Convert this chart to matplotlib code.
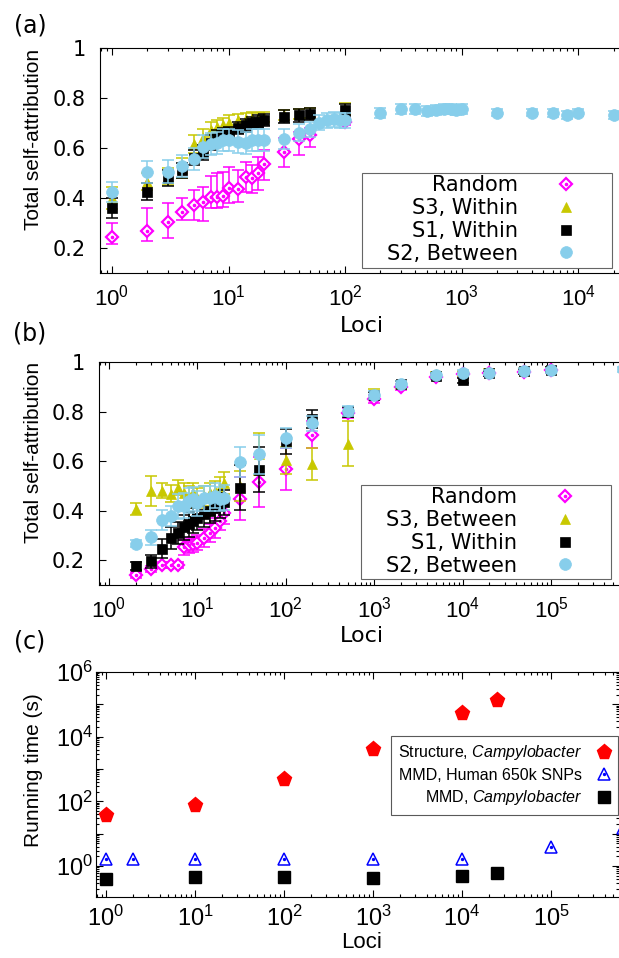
import numpy as np

import matplotlib
matplotlib.use('Agg')
from matplotlib import pyplot as plt
from matplotlib.patches import Rectangle
from matplotlib.ticker import LogLocator, FuncFormatter, NullFormatter
from matplotlib.legend_handler import HandlerTuple

#-------------------------------------------------

plt.rcParams['font.family'] = ['Liberation Sans', 'DejaVu Sans']
plt.rcParams['mathtext.fontset'] = 'custom'
plt.rcParams['mathtext.rm'] = 'Liberation Sans'
plt.rcParams['mathtext.it'] = 'Liberation Sans:italic'
plt.rcParams['mathtext.bf'] = 'Liberation Sans:bold'

W, H = 619, 958

### panel (a) : loci vs total self-attribution
xa = [1, 2, 3, 4, 5, 6, 7, 8, 9, 10, 12, 14, 16, 18, 20, 30, 40, 50, 100]
rand_a    = [0.245, 0.269, 0.305, 0.345, 0.372, 0.385, 0.405, 0.405, 0.408, 0.439, 0.435, 0.483, 0.479, 0.499, 0.536, 0.583, 0.636, 0.652, 0.705]
rand_a_lo = [0.216, 0.229, 0.240, 0.310, 0.312, 0.308, 0.359, 0.359, 0.362, 0.379, 0.385, 0.425, 0.420, 0.432, 0.472, 0.523, 0.572, 0.605, 0.690]
rand_a_hi = [0.300, 0.361, 0.380, 0.400, 0.432, 0.445, 0.488, 0.499, 0.505, 0.525, 0.512, 0.545, 0.532, 0.565, 0.592, 0.639, 0.665, 0.680, 0.720]
s3_a      = [0.400, 0.465, 0.485, 0.520, 0.616, 0.639, 0.672, 0.683, 0.690, 0.700, 0.710, 0.715, 0.720, 0.720, 0.722, 0.730, 0.735, 0.740, 0.755]
s3_a_err  = [0.045, 0.035, 0.035, 0.040, 0.035, 0.035, 0.030, 0.030, 0.030, 0.030, 0.025, 0.025, 0.025, 0.020, 0.020, 0.020, 0.020, 0.020, 0.025]
s1_a      = [0.359, 0.425, 0.479, 0.510, 0.560, 0.580, 0.620, 0.640, 0.650, 0.660, 0.680, 0.690, 0.700, 0.705, 0.712, 0.725, 0.730, 0.735, 0.752]
s1_a_err  = [0.040, 0.035, 0.032, 0.030, 0.030, 0.030, 0.030, 0.030, 0.030, 0.025, 0.025, 0.025, 0.025, 0.025, 0.025, 0.025, 0.025, 0.025, 0.025]
xa_s2 = [1, 2, 3, 4, 5, 6, 7, 8, 9, 10, 12, 14, 16, 18, 20, 30, 40, 50, 60, 70, 80, 90, 100,
         200, 300, 400, 500, 600, 700, 800, 900, 1000, 2000, 4000, 6000, 8000, 10000, 20000]
s2_a      = [0.425, 0.503, 0.505, 0.528, 0.555, 0.605, 0.616, 0.620, 0.632, 0.632, 0.625, 0.620, 0.632, 0.632, 0.632, 0.635, 0.661, 0.675, 0.700, 0.710, 0.715, 0.710, 0.710,
             0.739, 0.756, 0.756, 0.748, 0.752, 0.756, 0.756, 0.752, 0.755, 0.741, 0.741, 0.739, 0.732, 0.741, 0.732]
s2_a_err  = [0.040, 0.045, 0.045, 0.045, 0.045, 0.045, 0.045, 0.045, 0.045, 0.045, 0.045, 0.045, 0.045, 0.045, 0.045, 0.040, 0.035, 0.030, 0.030, 0.030, 0.030, 0.030, 0.030,
             0.020, 0.020, 0.020, 0.020, 0.020, 0.020, 0.020, 0.020, 0.020, 0.015, 0.015, 0.015, 0.015, 0.015, 0.015]

### panel (b)
xb = [2, 3, 4, 5, 6, 7, 8, 9, 10, 12, 14, 16, 18, 20, 30, 50, 100, 200, 500, 1000, 2000, 5000, 10000, 20000, 50000, 100000]
rand_b     = [0.140, 0.163, 0.180, 0.180, 0.180, 0.253, 0.260, 0.265, 0.270, 0.290, 0.310, 0.330, 0.360, 0.390, 0.449, 0.516, 0.567, 0.707, 0.793, 0.850, 0.900, 0.940, 0.950, 0.955, 0.960, 0.967]
rand_b_err = [0.012, 0.012, 0.012, 0.012, 0.012, 0.030, 0.030, 0.030, 0.030, 0.035, 0.035, 0.040, 0.040, 0.045, 0.085, 0.100, 0.085, 0.055, 0.020, 0.015, 0.012, 0.010, 0.010, 0.010, 0.010, 0.010]
s3_b       = [0.407, 0.480, 0.480, 0.469, 0.493, 0.470, 0.460, 0.470, 0.450, 0.460, 0.470, 0.480, 0.490, 0.513, 0.500, 0.627, 0.603, 0.587, 0.670, 0.870, 0.910, 0.950, 0.955, 0.960, 0.965, 0.970]
s3_b_err   = [0.025, 0.060, 0.030, 0.035, 0.030, 0.040, 0.040, 0.040, 0.040, 0.040, 0.040, 0.040, 0.045, 0.045, 0.060, 0.085, 0.055, 0.065, 0.090, 0.020, 0.015, 0.010, 0.010, 0.010, 0.010, 0.010]
s1_b       = [0.176, 0.195, 0.247, 0.290, 0.310, 0.333, 0.345, 0.360, 0.370, 0.385, 0.400, 0.410, 0.420, 0.433, 0.493, 0.565, 0.680, 0.770, 0.800, 0.865, 0.910, 0.945, 0.927, 0.955, 0.962, 0.968]
s1_b_err   = [0.015, 0.025, 0.040, 0.045, 0.045, 0.050, 0.050, 0.050, 0.050, 0.050, 0.050, 0.050, 0.050, 0.050, 0.090, 0.090, 0.050, 0.035, 0.020, 0.015, 0.012, 0.010, 0.010, 0.010, 0.010, 0.010]
xb_s2 = xb + [650000]
s2_b       = [0.267, 0.293, 0.363, 0.380, 0.417, 0.420, 0.440, 0.447, 0.430, 0.450, 0.450, 0.460, 0.447, 0.453, 0.597, 0.627, 0.692, 0.753, 0.804, 0.867, 0.913, 0.947, 0.957, 0.957, 0.964, 0.967, 0.971]
s2_b_err   = [0.015, 0.030, 0.040, 0.040, 0.050, 0.050, 0.050, 0.050, 0.050, 0.050, 0.050, 0.050, 0.050, 0.050, 0.060, 0.080, 0.040, 0.030, 0.020, 0.015, 0.012, 0.010, 0.010, 0.010, 0.010, 0.010, 0.010]

### panel (c) : running time (s)
xc_struct = [1, 10, 100, 1000, 10000, 25000]
t_struct  = [37, 75, 500, 4200, 54000, 138000]
xc_human  = [1, 2, 10, 100, 1000, 10000, 100000, 650000]
t_human   = [1.6, 1.6, 1.6, 1.6, 1.6, 1.6, 3.8, 14.5]
xc_mmd    = [1, 10, 100, 1000, 10000, 25000]
t_mmd     = [0.39, 0.44, 0.44, 0.42, 0.49, 0.60]

MAGENTA = '#ff00ff'
OLIVE   = '#c8c800'
SKY     = '#87ceeb'

#-------------------------------------------------

def fx(px):
    return px/float(W)

def fy(py):
    return 1.0 - py/float(H)

def series(ax, x, y, lo, hi, color, marker, ms, z, hollow=False):
    x = np.asarray(x, float)
    y = np.asarray(y, float)
    ax.errorbar(x, y, yerr=[y-np.asarray(lo), np.asarray(hi)-y], fmt='none', ecolor=color,
                elinewidth=1.1, capsize=4, capthick=1.1, zorder=z)
    if hollow:
        h1, = ax.plot(x, y, ls='none', marker=marker, ms=ms, mfc='white', mec=color, mew=1.6, zorder=z+0.1)
        h2, = ax.plot(x, y, ls='none', marker='o', ms=1.6, mfc=color, mec=color, zorder=z+0.2)
        return (h1, h2)
    h, = ax.plot(x, y, ls='none', marker=marker, ms=ms, mfc=color, mec=color, mew=0.5, zorder=z+0.1)
    return h

def sym(y, e):
    y = np.asarray(y); e = np.asarray(e)
    return y-e, y+e

def attribution_axes(ax, xlim):
    ax.set_xscale('log')
    ax.set_xlim(*xlim)
    ax.set_ylim(0.1, 1.0)
    ax.xaxis.set_major_locator(LogLocator(base=10, numticks=20))
    ax.xaxis.set_minor_locator(LogLocator(base=10, subs=np.arange(2, 10), numticks=40))
    ax.xaxis.set_minor_formatter(NullFormatter())
    ax.set_yticks([0.2, 0.4, 0.6, 0.8, 1.0], labels=['0.2', '0.4', '0.6', '0.8', '1'],
                  fontfamily='DejaVu Sans', fontsize=15)
    ax.tick_params(which='both', direction='in', top=True, right=False, width=0.8)
    ax.tick_params(which='major', length=5)
    ax.tick_params(which='minor', length=2.5)
    ax.tick_params(axis='y', pad=10)
    ax.tick_params(axis='x', labelsize=16, pad=8)
    ax.spines['right'].set_visible(False)
    for s in ['left', 'top', 'bottom']:
        ax.spines[s].set_linewidth(0.8)

def key(ax, handles, labels, right, top, box):
    leg = ax.legend(handles, labels, loc='upper right', bbox_to_anchor=(fx(right), fy(top)),
                    bbox_transform=fig.transFigure, frameon=False, markerfirst=False,
                    borderpad=0, borderaxespad=0, handlelength=1.0, handletextpad=1.8,
                    labelspacing=0.14, prop={'family': 'DejaVu Sans', 'size': 15},
                    handler_map={tuple: HandlerTuple(ndivide=1)})
    x0, y0, x1, y1 = box
    frame = Rectangle((fx(x0), fy(y1)), fx(x1)-fx(x0), fy(y0)-fy(y1), transform=fig.transFigure,
                      fc='white', ec='0.4', lw=0.8, zorder=4.5)
    ax.add_artist(frame)
    return leg

#-------------------------------------------------

fig = plt.figure(figsize=(W/100.0, H/100.0), dpi=100)

### (a)
ax = fig.add_axes([fx(100), fy(273), fx(519), 225.0/H])
attribution_axes(ax, (10**-0.103, 10**4.348))
h_r = series(ax, xa, rand_a, rand_a_lo, rand_a_hi, MAGENTA, 'D', 6.0, 2, hollow=True)
h_3 = series(ax, xa, s3_a, *sym(s3_a, s3_a_err), color=OLIVE, marker='^', ms=7, z=3)
h_1 = series(ax, xa, s1_a, *sym(s1_a, s1_a_err), color='black', marker='s', ms=7.5, z=4)
h_2 = series(ax, xa_s2, s2_a, *sym(s2_a, s2_a_err), color=SKY, marker='o', ms=8.5, z=5)
key(ax, [h_r, h_3, h_1, h_2], ['Random', 'S3, Within', 'S1, Within', 'S2, Between'],
    576, 175, (362, 173, 612, 268))

### (b)
ax = fig.add_axes([fx(99), fy(585), fx(520), 223.0/H])
attribution_axes(ax, (10**-0.113, 10**5.769))
h_r = series(ax, xb, rand_b, *sym(rand_b, rand_b_err), color=MAGENTA, marker='D', ms=6.0, z=2, hollow=True)
h_3 = series(ax, xb, s3_b, *sym(s3_b, s3_b_err), color=OLIVE, marker='^', ms=7, z=3)
h_1 = series(ax, xb, s1_b, *sym(s1_b, s1_b_err), color='black', marker='s', ms=7.5, z=4)
h_2 = series(ax, xb_s2, s2_b, *sym(s2_b, s2_b_err), color=SKY, marker='o', ms=8.5, z=5)
key(ax, [h_r, h_3, h_1, h_2], ['Random', 'S3, Between', 'S1, Within', 'S2, Between'],
    575, 487, (361, 485, 611, 579))

### (c)
ax = fig.add_axes([fx(96), fy(897), fx(523), 225.0/H])
ax.set_xscale('log')
ax.set_yscale('log')
ax.set_xlim(10**-0.112, 10**5.764)
ax.set_ylim(10**-0.96, 1e6)
hs, = ax.plot(xc_struct, t_struct, ls='none', marker='p', ms=11, color='#ff0000', zorder=3)
hh1, = ax.plot(xc_human, t_human, ls='none', marker='^', ms=8, mfc='white', mec='#0000ff', mew=1.1, zorder=3)
hh2, = ax.plot(xc_human, t_human, ls='none', marker='o', ms=1.4, color='#0000ff', zorder=3.1)
hm, = ax.plot(xc_mmd, t_mmd, ls='none', marker='s', ms=8.5, color='black', zorder=3)
ax.xaxis.set_major_locator(LogLocator(base=10, numticks=20))
ax.xaxis.set_minor_locator(LogLocator(base=10, subs=np.arange(2, 10), numticks=40))
ax.xaxis.set_minor_formatter(NullFormatter())
ax.yaxis.set_major_locator(LogLocator(base=10, numticks=20))
ax.yaxis.set_minor_locator(LogLocator(base=10, subs=np.arange(2, 10), numticks=40))
ax.yaxis.set_minor_formatter(NullFormatter())
ax.yaxis.set_major_formatter(FuncFormatter(
    lambda v, p: r'$10^{%d}$' % round(np.log10(v)) if round(np.log10(v)) % 2 == 0 else ''))
ax.tick_params(which='both', direction='in', top=True, right=True, width=0.8, labelsize=17)
ax.tick_params(which='major', length=5)
ax.tick_params(which='minor', length=2.5)
ax.tick_params(axis='x', pad=6)
ax.tick_params(axis='y', pad=2)
ax.spines['right'].set_visible(False)
for s in ['left', 'top', 'bottom']:
    ax.spines[s].set_linewidth(0.8)
leg = ax.legend([hs, (hh1, hh2), hm],
                ['Structure, $\\it{Campylobacter}$', 'MMD, Human 650k SNPs', 'MMD, $\\it{Campylobacter}$'],
                loc='upper right', bbox_to_anchor=(fx(618), fy(736)), bbox_transform=fig.transFigure,
                borderaxespad=0, markerfirst=False, fancybox=False, framealpha=1, edgecolor='0.35',
                borderpad=0.45, labelspacing=0.35, handlelength=0.8, handletextpad=1.0,
                prop={'size': 11.5}, handler_map={tuple: HandlerTuple(ndivide=1)})
leg.get_frame().set_linewidth(0.8)

### labels
for lab, py in [('(a)', 25), ('(b)', 333), ('(c)', 641)]:
    fig.text(fx(30), fy(py), lab, ha='center', va='center', family='DejaVu Sans', fontsize=17)
for lab, py in [('Total self-attribution', 139), ('Total self-attribution', 452), ('Running time (s)', 770)]:
    fig.text(fx(34), fy(py), lab, ha='center', va='center', rotation=90, fontsize=15)
for py, fam in [(326, 'DejaVu Sans'), (636, 'DejaVu Sans'), (942, 'Liberation Sans')]:
    fig.text(fx(362), fy(py), 'Loci', ha='center', va='center', family=fam, fontsize=16)

fig.savefig('out.png', dpi=100)
plt.close(fig)
